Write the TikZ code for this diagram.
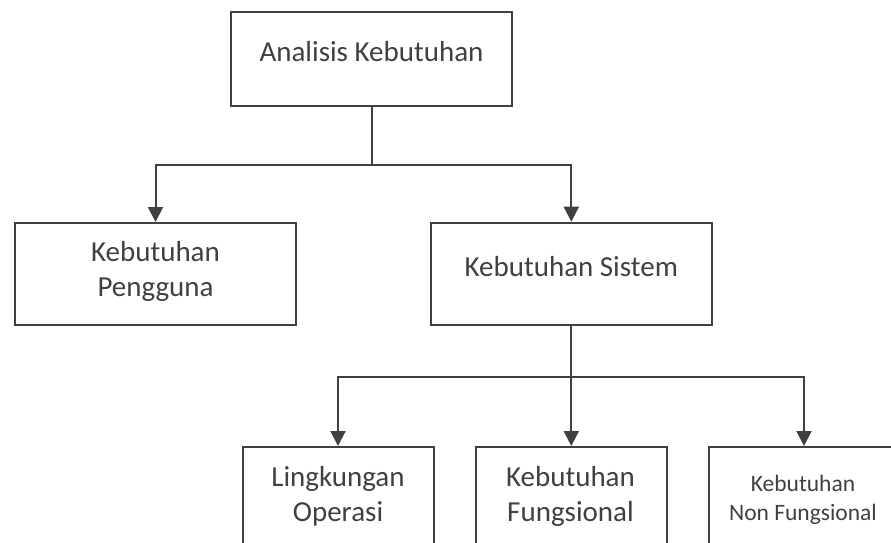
\documentclass[tikz,border=0pt]{standalone}
\usepackage{fontspec}
\setmainfont{Carlito}
\usetikzlibrary{arrows.meta}
\definecolor{ink}{HTML}{404040}
\begin{document}
\begin{tikzpicture}[x=1pt,y=-1pt,
  box/.style={draw=ink, line width=2pt, minimum width=281pt, minimum height=102pt, inner sep=0pt},
  lowbox/.style={box, minimum width=191pt, minimum height=140pt, anchor=north},
  label/.style={text=ink, font=\fontsize{29}{35}\selectfont, align=center, anchor=base, inner sep=0pt},
  smalllabel/.style={label, font=\fontsize{23.5}{28.5}\selectfont},
  link/.style={draw=ink, line width=2pt},
  arr/.style={link, -{Triangle[width=15pt,length=15pt]}}]
\useasboundingbox (0,0) rectangle (891,542);
\clip (0,0) rectangle (891,542);

% boxes
\node[box, minimum height=94pt] (ak) at (371.5,59) {};
\node[box] (kp) at (155.5,274) {};
\node[box] (ks) at (571.3,273.7) {};
\node[lowbox] (lo) at (338,446) {};
\node[lowbox] (kf) at (571.3,446) {};
\node[lowbox] (nf) at (804,446) {};

% texts (base anchor sits on the last line)
\node[label] (t-ak) at (371.5,61.7) {Analisis Kebutuhan};
\node[label] (t-kp) at (155.5,296.7) {Kebutuhan\\Pengguna};
\node[label] (t-ks) at (571.3,276) {Kebutuhan Sistem};
\node[label] (t-lo) at (338,521.7) {Lingkungan\\Operasi};
\node[label] (t-kf) at (570.5,521.7) {Kebutuhan\\Fungsional};
\node[smalllabel] (t-nf) at (803,520) {Kebutuhan\\Non Fungsional};

% junction points of the connectors
\coordinate (r1) at (0,165);
\coordinate (r2) at (0,377);
\coordinate (j1) at (ak.south |- r1);
\coordinate (j2) at (ks.south |- r2);

% connectors
\draw[link] (ak.south) -- (j1);
\draw[arr] (j1) -| (kp.north);
\draw[arr] (j1) -| (ks.north);
\draw[link] (ks.south) -- (j2);
\draw[arr] (j2) -| (lo.north);
\draw[arr] (j2) -- (kf.north);
\draw[arr] (j2) -| (nf.north);
\end{tikzpicture}
\end{document}
